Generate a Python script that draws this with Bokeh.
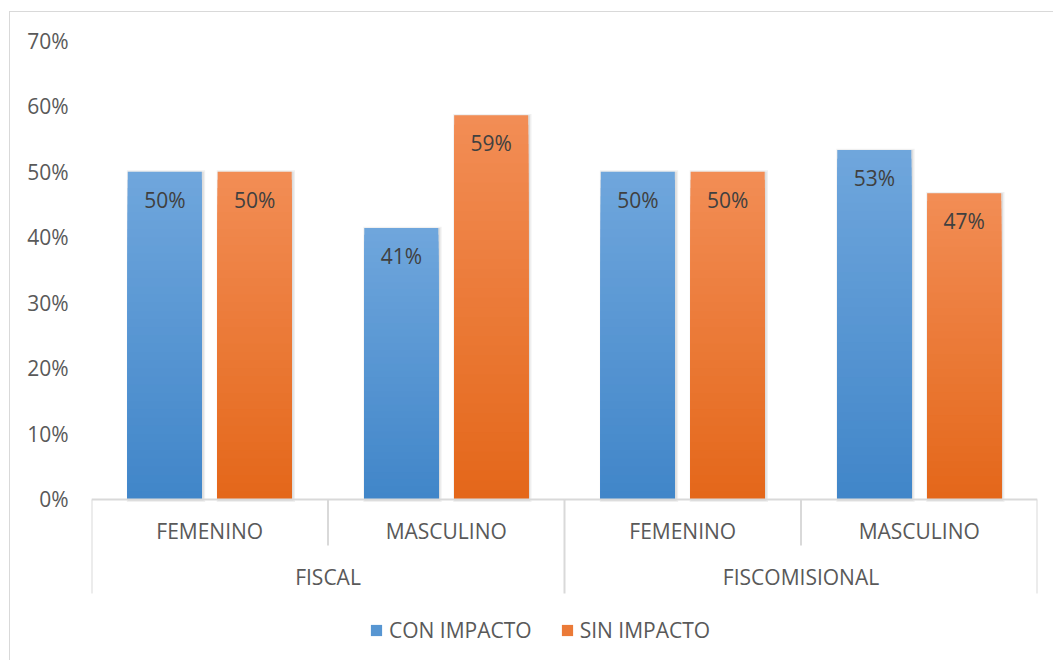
import numpy as np
from bokeh.plotting import figure
from bokeh.models import (ColumnDataSource, FixedTicker, NumeralTickFormatter,
                          Range1d, Legend, LegendItem)
from bokeh.core.properties import value
from bokeh.embed import file_html
from bokeh.resources import INLINE

# ---------------- data ----------------
groups = ["FISCAL", "FISCAL", "FISCOMISIONAL", "FISCOMISIONAL"]
subcats = ["FEMENINO", "MASCULINO", "FEMENINO", "MASCULINO"]
series_names = ["CON IMPACTO", "SIN IMPACTO"]
con_impacto = [0.50, 0.414, 0.50, 0.533]
sin_impacto = [0.50, 0.586, 0.50, 0.467]
y_ticks = [0.0, 0.1, 0.2, 0.3, 0.4, 0.5, 0.6, 0.7]

FONT = "Open Sans"
FS = "21px"
GRID = "#d9d9d9"
TICK_TXT = "#595959"
LBL_TXT = "#404040"
BLUE = ("#6fa6dc", "#4186c9")     # top, bottom
ORANGE = ("#f28d55", "#e4671a")

# ---------------- geometry ----------------
PX_PER_UNIT = 655.7
FRAME_H = 641
y_end = 0.7 + 20 / PX_PER_UNIT
y_start = y_end - FRAME_H / PX_PER_UNIT

n = len(subcats)
p = figure(width=1044, height=649, output_backend="svg", toolbar_location=None,
           x_range=Range1d(0, n), y_range=Range1d(y_start, y_end))
p.min_border = 0
p.min_border_left = 81
p.min_border_right = 17
p.min_border_top = 8
p.min_border_bottom = 0
p.margin = (11, 0, 0, 9)
p.styles = {"border-top": "1px solid #d9d9d9", "border-left": "1px solid #d9d9d9"}
p.outline_line_color = None
p.background_fill_color = "white"
p.border_fill_color = "white"
p.xgrid.visible = False
p.ygrid.visible = False
p.xaxis.visible = False

ya = p.yaxis[0]
ya.ticker = FixedTicker(ticks=y_ticks)
ya.formatter = NumeralTickFormatter(format="0%")
ya.axis_line_color = None
ya.major_tick_line_color = None
ya.minor_tick_line_color = None
ya.major_tick_in = 0
ya.major_tick_out = 0
ya.major_label_standoff = 23
ya.major_label_text_font = FONT
ya.major_label_text_font_size = FS
ya.major_label_text_color = TICK_TXT

# ---------------- bars ----------------
centers = np.arange(n) + 0.5
OFF = 0.19
W = 0.313
N_LAYERS = 40


def hex2rgb(h):
    h = h.lstrip("#")
    return np.array([int(h[i:i + 2], 16) for i in (0, 2, 4)], dtype=float)


def rgb2hex(c):
    return "#%02x%02x%02x" % tuple(int(round(v)) for v in c)


legend_items = []
for vals, off, (ctop, cbot), name in [(con_impacto, -OFF, BLUE, series_names[0]),
                                       (sin_impacto, OFF, ORANGE, series_names[1])]:
    vals = np.array(vals)
    xs = centers + off
    # soft shadow
    p.vbar(x=xs + 0.005, width=W + 0.018, top=vals + 0.002, bottom=-0.004,
           fill_color="black", fill_alpha=0.06, line_color=None)
    p.vbar(x=xs + 0.004, width=W + 0.008, top=vals, bottom=-0.002,
           fill_color="black", fill_alpha=0.08, line_color=None)
    # gradient layers
    a, b = hex2rgb(ctop), hex2rgb(cbot)
    lx, ltop, lcol = [], [], []
    for k in range(N_LAYERS):
        t = k / (N_LAYERS - 1)
        col = rgb2hex(a + (b - a) * t)
        for x, v in zip(xs, vals):
            lx.append(x)
            ltop.append(v * (1 - k / N_LAYERS))
            lcol.append(col)
    src = ColumnDataSource(dict(x=lx, top=ltop, color=lcol))
    r = p.vbar(x="x", width=W, top="top", bottom=0, fill_color="color",
               line_color=None, source=src)
    legend_items.append(LegendItem(label=name, renderers=[r], index=(N_LAYERS // 2) * n))
    # value labels
    p.text(x=xs, y=vals, text=[f"{v:.0%}" for v in vals], text_align="center",
           text_baseline="middle", y_offset=28, text_font=value(FONT),
           text_font_size=FS, text_color=LBL_TXT)

# ---------------- category axis (Excel style) ----------------
p.segment(x0=[0], y0=[0], x1=[n], y1=[0], line_color=GRID, line_width=2)
sub_len = 46 / PX_PER_UNIT
grp_len = 94 / PX_PER_UNIT
group_bounds = [0]
for i in range(1, n):
    if groups[i] != groups[i - 1]:
        group_bounds.append(i)
group_bounds.append(n)
sub_only = [i for i in range(n + 1) if i not in group_bounds]
p.segment(x0=sub_only, y0=[0] * len(sub_only), x1=sub_only, y1=[-sub_len] * len(sub_only),
          line_color=GRID, line_width=2)
p.segment(x0=group_bounds, y0=[0] * len(group_bounds), x1=group_bounds,
          y1=[-grp_len] * len(group_bounds), line_color=GRID, line_width=2)

p.text(x=centers, y=[0] * n, text=subcats, text_align="center", text_baseline="middle",
       y_offset=32, text_font=value(FONT), text_font_size=FS, text_color=TICK_TXT)
gx, gt = [], []
for j in range(len(group_bounds) - 1):
    gx.append((group_bounds[j] + group_bounds[j + 1]) / 2)
    gt.append(groups[group_bounds[j]])
p.text(x=gx, y=[0] * len(gx), text=gt, text_align="center", text_baseline="middle",
       y_offset=78, text_font=value(FONT), text_font_size=FS, text_color=TICK_TXT)

# ---------------- legend ----------------
leg = Legend(items=legend_items, orientation="horizontal", location=(278, 17),
             glyph_width=14, glyph_height=14, label_standoff=6, spacing=28,
             padding=0, margin=0, border_line_color=None, background_fill_alpha=0,
             label_text_font=FONT, label_text_font_size=FS,
             label_text_color=TICK_TXT, label_height=24)
p.add_layout(leg)

open("out.html", "w").write(file_html(p, INLINE))
